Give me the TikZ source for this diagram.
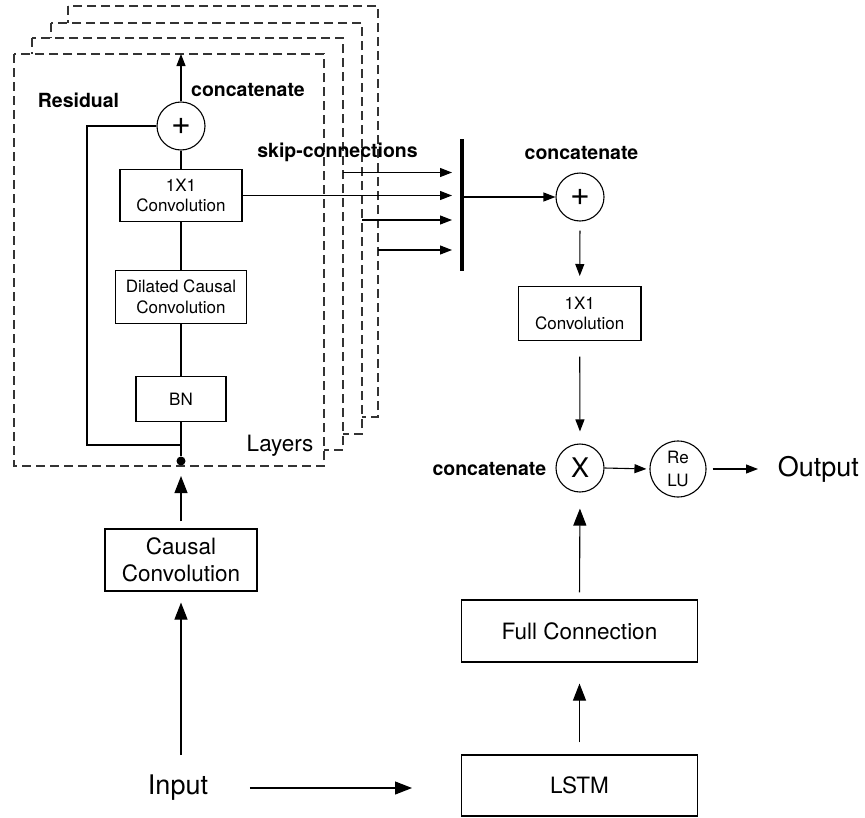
\documentclass[tikz,border=0pt]{standalone}
\usepackage{fontspec}
\setmainfont{TeX Gyre Heros}
\usetikzlibrary{arrows.meta}
\begin{document}
\begin{tikzpicture}[x=1pt,y=-1pt,
  line width=1.1pt,
  frame/.style={draw=black!80, dash pattern=on 9pt off 5pt, line width=1.1pt, fill=white},
  box/.style={draw, inner sep=0pt, align=center},
  sm/.style={font=\fontsize{17}{20.5}\selectfont},
  md/.style={font=\fontsize{22.5}{26.5}\selectfont},
  lg/.style={font=\fontsize{27}{30}\selectfont},
  lbl/.style={font=\fontsize{19.5}{23}\selectfont\bfseries},
  op/.style={draw, circle, inner sep=0pt, minimum size=48pt},
  sign/.style={font=\fontsize{34}{34}\selectfont},
  arr/.style={-{Triangle[length=12pt,width=9pt]}},
  bigarr/.style={-{Triangle[length=17pt,width=13pt]}},
]
\useasboundingbox (0,0) rectangle (865,817);

% stacked layer frames, back to front
\draw[frame] (68,6)  rectangle (378,417);
\draw[frame] (51,23) rectangle (362,434);
\draw[frame] (32,38) rectangle (343,450);
\draw[frame] (14,54) rectangle (324,466);

% residual block
\node[op, sign] (pl) at (181,126) {+};
\node[box, sm, minimum width=122pt, minimum height=52.5pt] (c1) at (181,195.5) {1X1\\Convolution};
\node[box, sm, minimum width=131pt, minimum height=52.5pt] (dc) at (181,297) {Dilated Causal\\Convolution};
\node[box, sm, minimum width=90pt, minimum height=44.5pt] (bn) at (181,399) {BN};
\node[circle, fill, inner sep=0pt, minimum size=9pt] (dot) at (181,461) {};
\coordinate (ltop) at (181,54);
\coordinate (rl) at (87,445);
\coordinate (rj) at (181,445);

\node[lbl] (res) at (78.5,100) {Residual};
\node[lbl] (cat1) at (248,90) {concatenate};
\node[md] (lay) at (280,446) {Layers};
\node[lbl] (skip) at (337.5,152) {skip-connections};

\draw (dot) -- (bn.south);
\draw (bn.north) -- (dc.south);
\draw (dc.north) -- (c1.south);
\draw (c1.north) -- (pl.south);
\draw[arr] (pl.north) -- (ltop);
\draw (pl.west) -| (rl) -- (rj);

% causal convolution and input
\node[box, md, minimum width=152pt, minimum height=62pt] (cc) at (181,560) {Causal\\Convolution};
\node[lg] (inp) at (178,788) {Input};
\coordinate (ia) at (181,755);
\draw[bigarr, shorten <=7pt, shorten >=10pt] (cc.north) -- (dot.south);
\draw[bigarr, shorten >=11pt] (ia) -- (cc.south);

% skip connections into the bar
\coordinate (bt) at (462,139);
\coordinate (bb) at (462,271);
\draw[line width=4pt] (bt) -- (bb);
\coordinate (s1) at (343,172.5);
\coordinate (s3) at (362,220);
\coordinate (s4) at (378,250);
\coordinate (e1) at (452,172.5);
\coordinate (e2) at (452,195.5);
\coordinate (e3) at (452,220);
\coordinate (e4) at (452,250);
\draw[arr] (s1) -- (e1);
\draw[arr] (c1.east) -- (e2);
\draw[arr] (s3) -- (e3);
\draw[arr] (s4) -- (e4);

% output branch
\node[op, sign] (pr) at (580,197) {+};
\node[lbl] (cat2) at (581.5,153) {concatenate};
\node[box, sm, minimum width=122.5pt, minimum height=53.5pt] (c2) at (579.7,313.3) {1X1\\Convolution};
\node[op, font=\fontsize{27}{28}\selectfont] (xm) at (580,468) {X};
\node[lbl, anchor=east] (cat3) at (550,469) {concatenate};
\node[op, minimum size=56pt, font=\fontsize{17}{23}\selectfont, align=center] (relu) at (678,469) {Re\\LU};
\node[lg, anchor=west] (out) at (774,469) {Output};
\node[box, md, minimum width=236pt, minimum height=62pt] (fc) at (579.5,631) {Full Connection};
\node[box, md, minimum width=236pt, minimum height=61pt] (lstm) at (579.5,785.5) {LSTM};
\coordinate (la) at (412,788);

\draw[arr] (bt |- pr) -- (pr.west);
\draw[arr, shorten <=9pt, shorten >=10pt] (pr.south) -- (c2.north);
\draw[arr, shorten <=16pt, shorten >=12pt] (c2.south) -- (xm.north);
\draw[bigarr, shorten <=7pt, shorten >=16pt] (fc.north) -- (xm.south);
\draw[bigarr, shorten <=12pt, shorten >=21pt] (lstm.north) -- (fc.south);
\draw[arr, shorten >=3pt] (xm.east) -- (relu.west);
\draw[arr, shorten <=6pt, shorten >=16pt] (relu.east) -- (out.west);
\draw[bigarr, shorten <=38pt] (inp.east) -- (la);
\end{tikzpicture}
\end{document}
